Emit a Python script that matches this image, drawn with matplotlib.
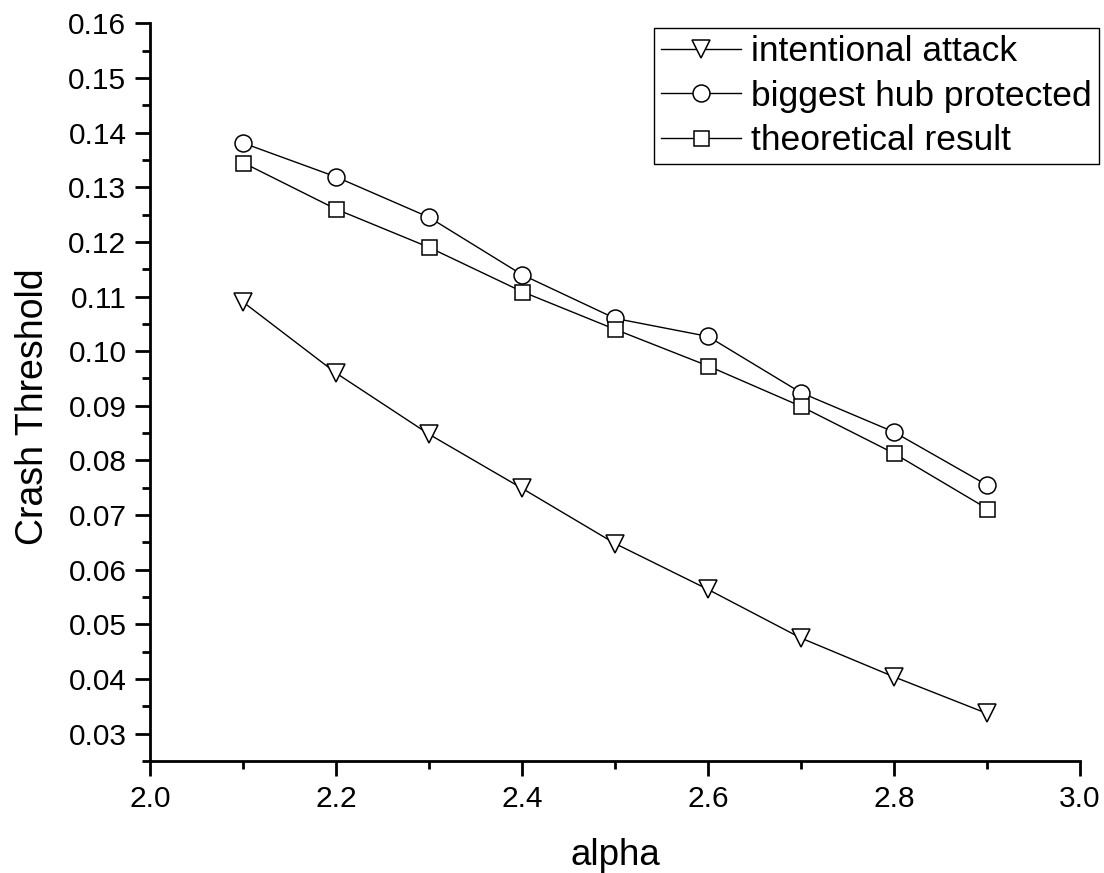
import matplotlib
matplotlib.use("Agg")
import matplotlib.pyplot as plt
from matplotlib.ticker import MultipleLocator, FormatStrFormatter

plt.rcParams['font.family'] = ['Liberation Sans', 'DejaVu Sans']

alpha = [2.1, 2.2, 2.3, 2.4, 2.5, 2.6, 2.7, 2.8, 2.9]
intentional_attack = [0.1090, 0.0960, 0.0848, 0.0749, 0.0648, 0.0564, 0.0475, 0.0404, 0.0337]
biggest_hub_protected = [0.1381, 0.1319, 0.1245, 0.1140, 0.1060, 0.1027, 0.0924, 0.0852, 0.0755]
theoretical_result = [0.1345, 0.1260, 0.1190, 0.1109, 0.1040, 0.0973, 0.0899, 0.0813, 0.0712]

W, H = 1104, 873
fig = plt.figure(figsize=(W / 100, H / 100), dpi=100)
ax = fig.add_axes([150 / W, 1 - 761 / H, (1080 - 150) / W, (761 - 23.3) / H])

common = dict(color='black', linewidth=1.0, markerfacecolor='white',
              markeredgecolor='black', markeredgewidth=1.1)
ax.plot(alpha, intentional_attack, marker='v', markersize=13.5,
        label='intentional attack', **common)
ax.plot(alpha, biggest_hub_protected, marker='o', markersize=12.2,
        label='biggest hub protected', **common)
ax.plot(alpha, theoretical_result, marker='s', markersize=10.8,
        label='theoretical result', **common)

ax.set_xlim(2.0, 3.0)
ax.set_ylim(0.025, 0.16)
ax.xaxis.set_major_locator(MultipleLocator(0.2))
ax.xaxis.set_minor_locator(MultipleLocator(0.1))
ax.yaxis.set_major_locator(MultipleLocator(0.01))
ax.yaxis.set_minor_locator(MultipleLocator(0.005))
ax.xaxis.set_major_formatter(FormatStrFormatter('%.1f'))
ax.yaxis.set_major_formatter(FormatStrFormatter('%.2f'))

for s in ['top', 'right']:
    ax.spines[s].set_visible(False)
for s in ['left', 'bottom']:
    ax.spines[s].set_linewidth(2.0)

ax.tick_params(which='major', direction='out', length=11, width=2.0,
               labelsize=21.5, pad=6)
ax.tick_params(which='minor', direction='out', length=6, width=2.0)

ax.set_xlabel('alpha', fontsize=26.5)
ax.set_ylabel('Crash Threshold', fontsize=27)
ax.xaxis.set_label_coords(0.5, -0.105)
ax.yaxis.set_label_coords(-0.106, 0.48)

leg = ax.legend(loc='upper right', bbox_to_anchor=(1099 / W, 1 - 28.3 / H),
                bbox_transform=fig.transFigure, fontsize=25.5, frameon=True,
                fancybox=False, edgecolor='black', framealpha=1,
                handlelength=2.25, handletextpad=0.3, borderpad=0.2,
                labelspacing=0.32, borderaxespad=0)
leg.get_frame().set_linewidth(1.0)

fig.savefig('out.png', dpi=100)
